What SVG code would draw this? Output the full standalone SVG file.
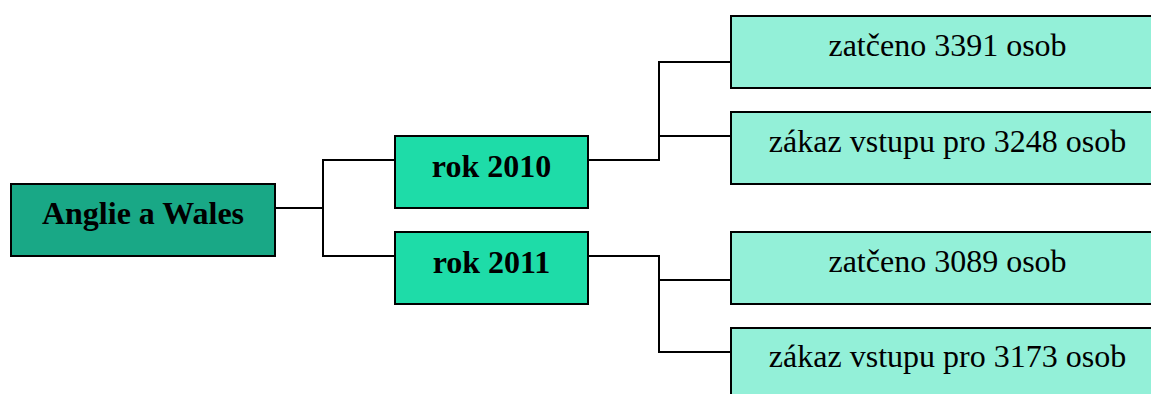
<svg xmlns="http://www.w3.org/2000/svg" width="1151" height="394" viewBox="0 0 1151 394">
<style>
.box{stroke:#000;stroke-width:2}
.root{fill:#19A886}
.mid{fill:#1EDCA8}
.leaf{fill:#93F0D8}
.t{font-family:"Liberation Serif","Times New Roman",serif;font-size:32px;text-anchor:middle;fill:#000}
.b{font-weight:bold}
.c{fill:none;stroke:#000;stroke-width:2}
</style>
<rect width="1151" height="394" fill="#fff"/>
<g id="connectors">
<polyline class="c" points="275,208 323,208"/>
<polyline class="c" points="395,160 323,160 323,256 395,256"/>
<polyline class="c" points="588,160 659,160 659,62 731,62"/>
<polyline class="c" points="659,136 731,136"/>
<polyline class="c" points="588,256 659,256 659,352 731,352"/>
<polyline class="c" points="659,280 731,280"/>
</g>
<g id="root">
<rect class="box root" x="11" y="184" width="264" height="72"/>
<text class="t b" x="143" y="224">Anglie a Wales</text>
</g>
<g id="rok2010">
<rect class="box mid" x="395" y="136" width="193" height="72"/>
<text class="t b" x="491.5" y="177">rok 2010</text>
</g>
<g id="rok2011">
<rect class="box mid" x="395" y="232" width="193" height="72"/>
<text class="t b" x="491.5" y="273">rok 2011</text>
</g>
<g id="zatceno2010">
<rect class="box leaf" x="731" y="16" width="433" height="72"/>
<text class="t" x="947.5" y="56">zatčeno 3391 osob</text>
</g>
<g id="zakaz2010">
<rect class="box leaf" x="731" y="112" width="433" height="72"/>
<text class="t" x="947.5" y="152">zákaz vstupu pro 3248 osob</text>
</g>
<g id="zatceno2011">
<rect class="box leaf" x="731" y="232" width="433" height="72"/>
<text class="t" x="947.5" y="272">zatčeno 3089 osob</text>
</g>
<g id="zakaz2011">
<rect class="box leaf" x="731" y="328" width="433" height="72"/>
<text class="t" x="947.5" y="367">zákaz vstupu pro 3173 osob</text>
</g>
</svg>
